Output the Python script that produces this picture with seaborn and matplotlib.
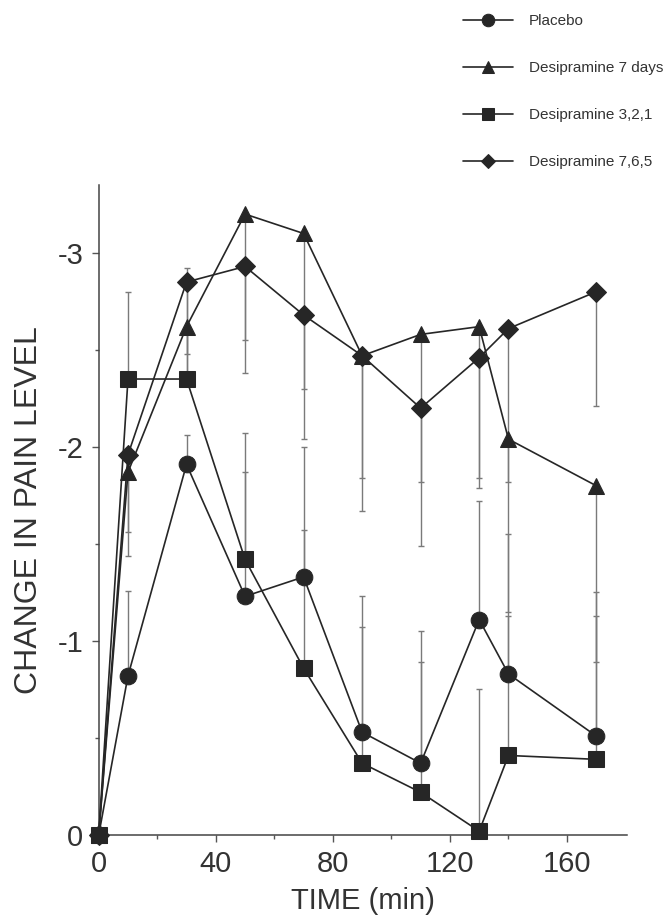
import matplotlib
matplotlib.use("Agg")
import matplotlib.pyplot as plt
import seaborn as sns
import numpy as np
from matplotlib.ticker import FixedLocator

# ---------------- data ----------------
times = [0, 10, 30, 50, 70, 90, 110, 130, 140, 170]

placebo = [0, -0.82, -1.91, -1.23, -1.33, -0.53, -0.37, -1.11, -0.83, -0.51]
placebo_bar_end = [0, -1.26, -2.06, -2.07, -1.57, -1.23, -1.05, -1.72, -1.13, -1.25]

desi_7days = [0, -1.87, -2.62, -3.20, -3.10, -2.47, -2.58, -2.62, -2.04, -1.80]
desi_7days_bar_end = [0, -1.44, -2.48, -2.38, -2.04, -1.67, -1.49, -1.79, -1.15, -0.89]

desi_321 = [0, -2.35, -2.35, -1.42, -0.86, -0.37, -0.22, -0.02, -0.41, -0.39]
desi_321_bar_end = [0, -2.80, -2.92, -1.87, -2.00, -1.07, -0.89, -0.75, -1.55, -1.13]

desi_765 = [0, -1.96, -2.85, -2.93, -2.68, -2.47, -2.20, -2.46, -2.61, -2.80]
desi_765_bar_end = [0, -1.56, -2.35, -2.55, -2.30, -1.84, -1.82, -1.84, -1.82, -2.21]

series_labels = ["Placebo", "Desipramine 7 days", "Desipramine 3,2,1", "Desipramine 7,6,5"]
x_ticks = [0, 40, 80, 120, 160]
y_ticks = [0, -1, -2, -3]
y_tick_labels = ["0", "-1", "-2", "-3"]

# ---------------- styling ----------------
sns.set_style("ticks")
plt.rcParams["font.family"] = ["Liberation Sans", "DejaVu Sans"]

ink = "#262626"
bar_col = "#7a7a7a"

fig = plt.figure(figsize=(6.67, 9.24), dpi=100)
ax = fig.add_axes([0.148, 0.0963, 0.792, 0.7035])

series = [
    (placebo, placebo_bar_end, "o", 12),
    (desi_7days, desi_7days_bar_end, "^", 12),
    (desi_321, desi_321_bar_end, "s", 12),
    (desi_765, desi_765_bar_end, "D", 10),
]

# error bars (one-sided) drawn first
for vals, ends, mk, ms in series:
    v = np.asarray(vals, dtype=float)
    e = np.asarray(ends, dtype=float)
    lower = np.clip(v - e, 0, None)
    upper = np.clip(e - v, 0, None)
    ax.errorbar(times, v, yerr=[lower, upper], fmt="none", ecolor=bar_col,
                elinewidth=1.0, capsize=2.5, capthick=1.0, zorder=1)

for (vals, ends, mk, ms), lab in zip(series, series_labels):
    sns.lineplot(x=times, y=vals, marker=mk, markersize=ms, color=ink,
                 markeredgecolor=ink, markerfacecolor=ink, linewidth=1.2,
                 label=lab, ax=ax, zorder=3, clip_on=False)

ax.set_xlim(0, 180.5)
ax.set_ylim(0, -3.35)

ax.xaxis.set_major_locator(FixedLocator(x_ticks))
ax.xaxis.set_minor_locator(FixedLocator([20, 60, 100, 140]))
ax.yaxis.set_major_locator(FixedLocator(y_ticks))
ax.set_yticklabels(y_tick_labels)
ax.yaxis.set_minor_locator(FixedLocator([-0.5, -1.5, -2.5]))

ax.tick_params(axis="both", which="major", labelsize=21, length=5, width=1,
               color="#555555", labelcolor="#333333", pad=6, direction="out")
ax.tick_params(axis="both", which="minor", length=3, width=1, color="#555555",
               direction="out")

for side in ["top", "right"]:
    ax.spines[side].set_visible(False)
for side in ["left", "bottom"]:
    ax.spines[side].set_color("#444444")
    ax.spines[side].set_linewidth(1.1)

ax.set_xlabel("TIME (min)", fontsize=21, color="#333333", labelpad=6)
ax.set_ylabel("CHANGE IN PAIN LEVEL", fontsize=23, color="#333333", labelpad=10)

leg = ax.legend(loc="upper left", bbox_to_anchor=(0.694, 0.9846),
                bbox_transform=fig.transFigure, frameon=False, fontsize=11,
                handlelength=3.3, handletextpad=1.0, labelspacing=2.16,
                borderpad=0, borderaxespad=0, markerscale=0.75)
for t in leg.get_texts():
    t.set_color("#333333")

fig.savefig("out.png", dpi=100, facecolor="white")
